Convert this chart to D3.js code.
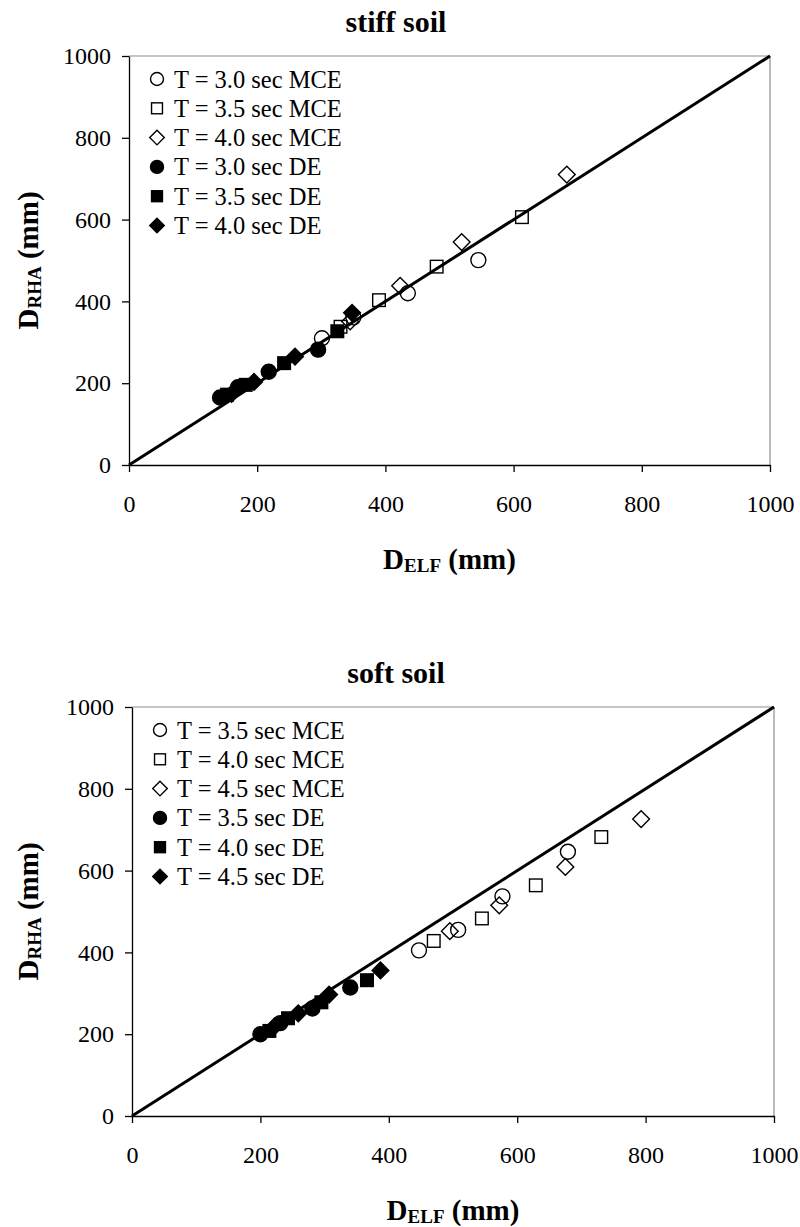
<!DOCTYPE html>
<html>
<head>
<meta charset="utf-8">
<script src="https://cdn.jsdelivr.net/npm/d3@7"></script>
<style>
  body { margin: 0; background: #fff; }
  svg { display: block; }
  text { font-family: "Liberation Serif", "Times New Roman", serif; fill: #000; }
</style>
</head>
<body>
<svg id="chart" width="800" height="1227"></svg>
<script>
    // tick values shared by both axes of both panels
    const tickValues = [0, 200, 400, 600, 800, 1000];

    // stiff soil: [D_ELF, D_RHA] in mm
    const stiffLabels = ["T = 3.0 sec MCE", "T = 3.5 sec MCE", "T = 4.0 sec MCE",
                         "T = 3.0 sec DE", "T = 3.5 sec DE", "T = 4.0 sec DE"];
    const stiffMce30 = [[301, 310], [350, 361], [435, 420], [545, 501]];
    const stiffMce35 = [[330, 338], [390, 403], [480, 485], [613, 606]];
    const stiffMce40 = [[345, 351], [423, 438], [519, 545], [683, 710]];
    const stiffDe30 = [[142, 165], [170, 190], [218, 228], [295, 282]];
    const stiffDe35 = [[153, 172], [182, 196], [242, 249], [325, 327]];
    const stiffDe40 = [[160, 174], [195, 203], [259, 265], [348, 372]];

    // soft soil
    const softLabels = ["T = 3.5 sec MCE", "T = 4.0 sec MCE", "T = 4.5 sec MCE",
                        "T = 3.5 sec DE", "T = 4.0 sec DE", "T = 4.5 sec DE"];
    const softMce35 = [[447, 405], [508, 455], [577, 537], [679, 646]];
    const softMce40 = [[470, 428], [545, 483], [629, 564], [731, 682]];
    const softMce45 = [[495, 452], [572, 515], [675, 609], [793, 726]];
    const softDe35 = [[200, 200], [231, 227], [281, 263], [340, 314]];
    const softDe40 = [[214, 208], [243, 239], [295, 278], [366, 332]];
    const softDe45 = [[222, 219], [259, 251], [307, 297], [387, 356]];

    const shapes = ["circle", "square", "diamond", "circle", "square", "diamond"];
    const filled = [false, false, false, true, true, true];

    const svg = d3.select("#chart");

    function marker(g, shape, isFilled, cx, cy, s) {
        let m;
        if (shape === "circle") {
            m = g.append("circle").attr("cx", cx).attr("cy", cy).attr("r", s * 0.5);
        } else if (shape === "square") {
            const h = s * 0.42;
            m = g.append("rect").attr("x", cx - h).attr("y", cy - h)
                .attr("width", 2 * h).attr("height", 2 * h);
        } else {
            const h = s * 0.56;
            m = g.append("path")
                .attr("d", `M${cx},${cy - h}L${cx + h},${cy}L${cx},${cy + h}L${cx - h},${cy}Z`);
        }
        m.attr("fill", isFilled ? "#000" : "none")
         .attr("stroke", "#000")
         .attr("stroke-width", 1.4);
    }

    function drawPanel(cfg) {
        const x = d3.scaleLinear().domain([0, 1000]).range([cfg.left, cfg.right]);
        const y = d3.scaleLinear().domain([0, 1000]).range([cfg.bottom, cfg.top]);
        const g = svg.append("g");

        // plot area frame (top and right are grey)
        g.append("line").attr("x1", x(0)).attr("x2", x(1000)).attr("y1", y(1000)).attr("y2", y(1000))
            .attr("stroke", "#8c8c8c").attr("stroke-width", 1.2);
        g.append("line").attr("x1", x(1000)).attr("x2", x(1000)).attr("y1", y(0)).attr("y2", y(1000))
            .attr("stroke", "#8c8c8c").attr("stroke-width", 1.2);

        const fmt = d3.format("d");
        const xAxis = g.append("g").attr("transform", `translate(0,${y(0)})`)
            .call(d3.axisBottom(x).tickValues(tickValues).tickFormat(fmt)
                .tickSize(7).tickSizeOuter(0).tickPadding(23));
        const yAxis = g.append("g").attr("transform", `translate(${x(0)},0)`)
            .call(d3.axisLeft(y).tickValues(tickValues).tickFormat(fmt)
                .tickSize(7).tickSizeOuter(0).tickPadding(11));
        [xAxis, yAxis].forEach(a => {
            a.selectAll("path, line").attr("stroke", "#000").attr("stroke-width", 1.3);
            a.selectAll("text").style("font-size", "24px")
                .style("font-family", "\"Liberation Serif\", serif").attr("fill", "#000");
        });

        // data
        cfg.series.forEach((pts, i) => {
            pts.forEach(p => marker(g, shapes[i], filled[i], x(p[0]), y(p[1]), 15));
        });

        // 1:1 line
        g.append("line")
            .attr("x1", x(0)).attr("y1", y(0)).attr("x2", x(1000)).attr("y2", y(1000))
            .attr("stroke", "#000").attr("stroke-width", 3);

        // legend
        cfg.labels.forEach((lab, i) => {
            const ly = y(1000) + 23 + i * 29.3;
            marker(g, shapes[i], filled[i], x(0) + 28, ly, 13);
            g.append("text").attr("x", x(0) + 45).attr("y", ly + 8.5)
                .style("font-size", "24.5px").text(lab);
        });

        // title
        g.append("text").attr("x", 396).attr("y", y(1000) - 24)
            .attr("text-anchor", "middle")
            .style("font-size", "30px").style("font-weight", "bold")
            .text(cfg.title);

        // x axis title
        const xt = g.append("text")
            .attr("x", (x(0) + x(1000)) / 2).attr("y", y(0) + 104)
            .attr("text-anchor", "middle")
            .style("font-size", "29px").style("font-weight", "bold");
        xt.append("tspan").text("D");
        xt.append("tspan").attr("dy", 3).style("font-size", "19px").text("ELF");
        xt.append("tspan").attr("dy", -3).text(" (mm)");

        // y axis title
        const yt = g.append("text")
            .attr("transform", `translate(38,${(y(0) + y(1000)) / 2}) rotate(-90)`)
            .attr("text-anchor", "middle")
            .style("font-size", "29px").style("font-weight", "bold");
        yt.append("tspan").text("D");
        yt.append("tspan").attr("dy", 3).style("font-size", "19px").text("RHA");
        yt.append("tspan").attr("dy", -3).text(" (mm)");
    }

    drawPanel({
        left: 129, right: 770, top: 56, bottom: 465,
        title: "stiff soil", labels: stiffLabels,
        series: [stiffMce30, stiffMce35, stiffMce40, stiffDe30, stiffDe35, stiffDe40]
    });

    drawPanel({
        left: 132, right: 774, top: 707, bottom: 1116,
        title: "soft soil", labels: softLabels,
        series: [softMce35, softMce40, softMce45, softDe35, softDe40, softDe45]
    });
</script>
</body>
</html>
